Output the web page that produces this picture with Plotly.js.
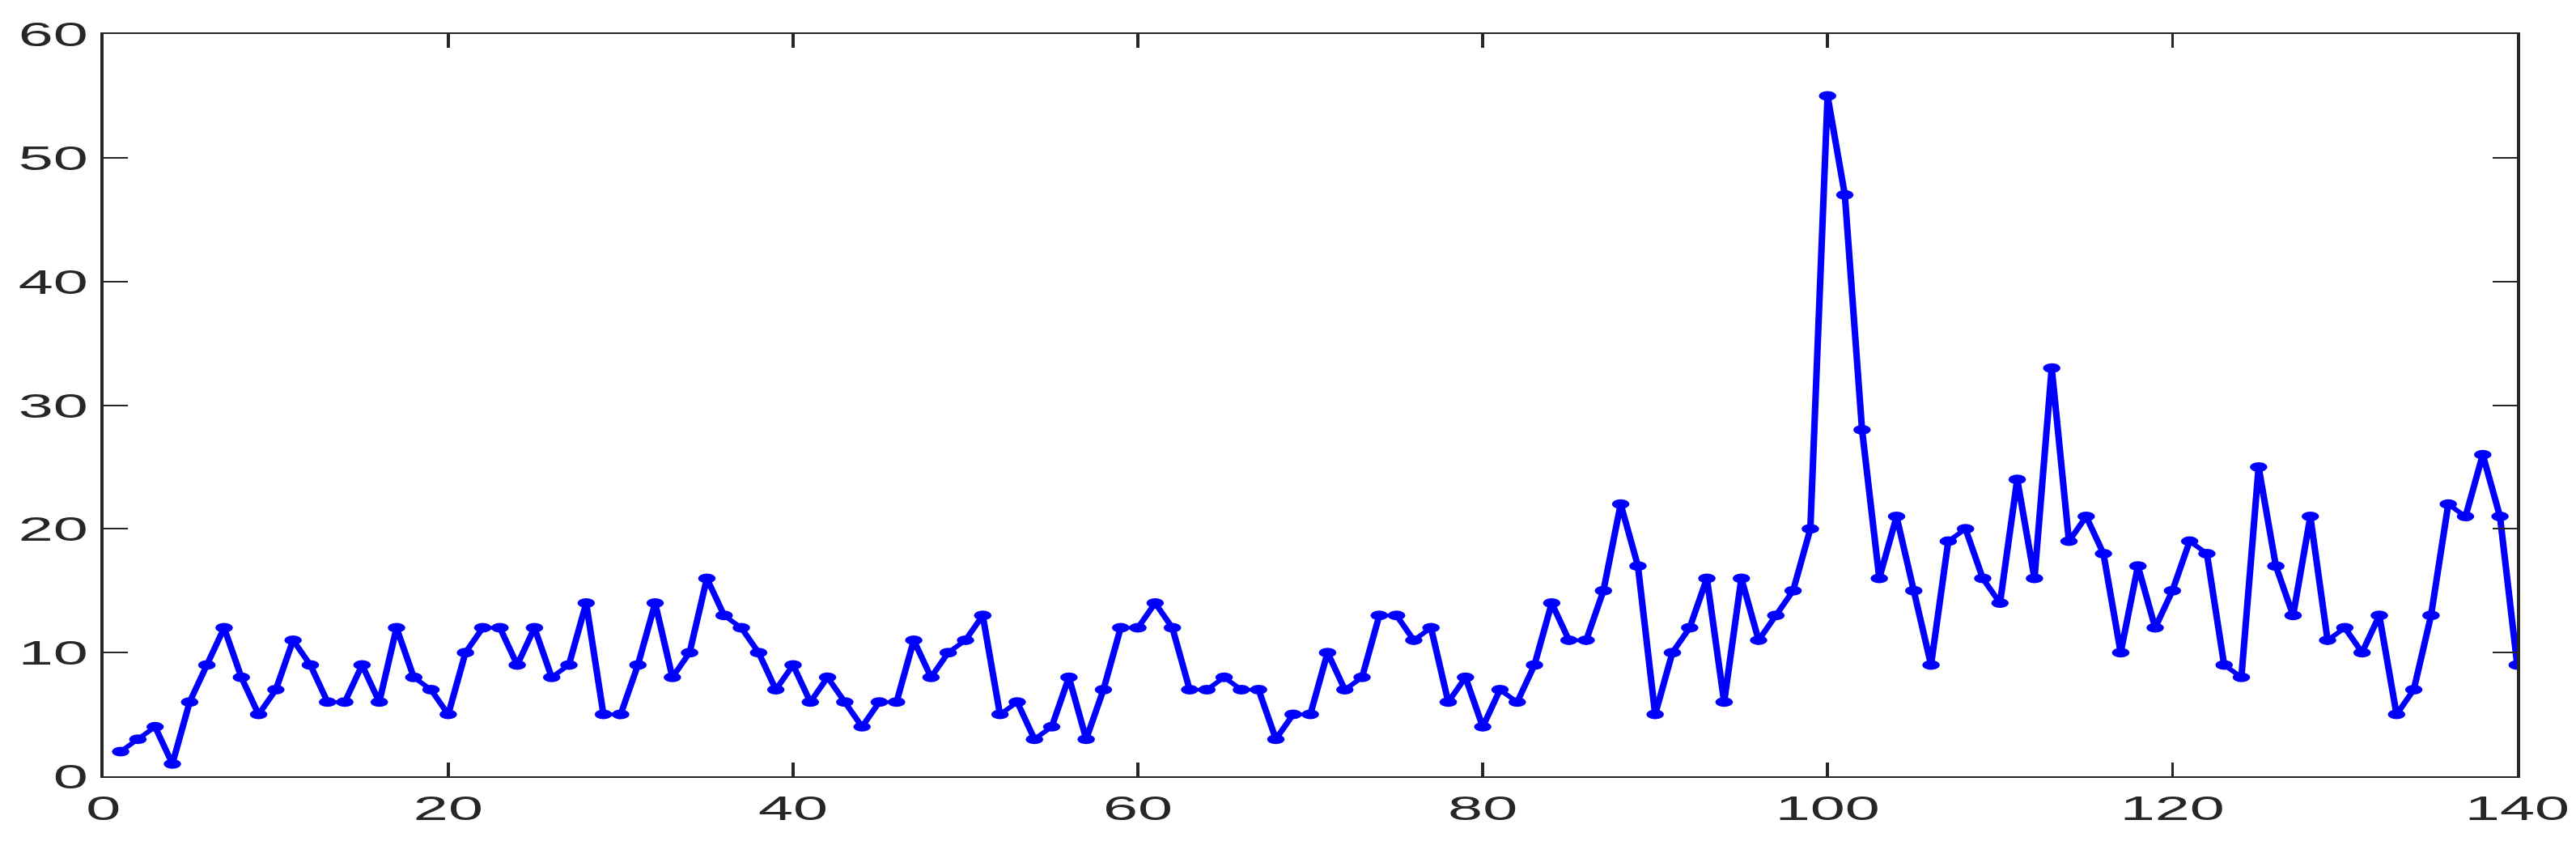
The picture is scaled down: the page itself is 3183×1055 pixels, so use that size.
<!DOCTYPE html>
<html>
<head>
<meta charset="utf-8">
<script src="https://cdn.plot.ly/plotly-3.0.1.min.js"></script>
<style>
  html, body { margin: 0; padding: 0; overflow: hidden; background: #fff; }
  /* the reference is a horizontally stretched figure, so draw narrow and stretch */
  #chart { width: 1769px; height: 1055px; transform: scaleX(1.8); transform-origin: 0 0; }
</style>
</head>
<body>
<div id="chart"></div>
<script>
// values, one per sample
let counts = [
  2, 3, 4, 1, 6, 9, 12, 8, 5, 7, 11, 9, 6, 6, 9, 6, 12, 8, 7, 5,
  10, 12, 12, 9, 12, 8, 9, 14, 5, 5, 9, 14, 8, 10, 16, 13, 12, 10, 7, 9,
  6, 8, 6, 4, 6, 6, 11, 8, 10, 11, 13, 5, 6, 3, 4, 8, 3, 7, 12, 12,
  14, 12, 7, 7, 8, 7, 7, 3, 5, 5, 10, 7, 8, 13, 13, 11, 12, 6, 8, 4,
  7, 6, 9, 14, 11, 11, 15, 22, 17, 5, 10, 12, 16, 6, 16, 11, 13, 15, 20, 55,
  47, 28, 16, 21, 15, 9, 19, 20, 16, 14, 24, 16, 33, 19, 21, 18, 10, 17, 12, 15,
  19, 18, 9, 8, 25, 17, 13, 21, 11, 12, 10, 13, 5, 7, 13, 22, 21, 26, 21, 9
];
let sampleNo = counts.map((v, i) => i + 1);

let xTicks = [0, 20, 40, 60, 80, 100, 120, 140];
let yTicks = [0, 10, 20, 30, 40, 50, 60];

let trace = {
  x: sampleNo,
  y: counts,
  type: 'scatter',
  mode: 'lines+markers',
  line: { color: '#0000ff', width: 4.5 },
  marker: { color: '#0000ff', size: 12 },
  hoverinfo: 'x+y'
};

let axisStyle = {
  showgrid: false,
  zeroline: false,
  showline: true,
  linecolor: '#262626',
  linewidth: 2,
  mirror: 'ticks',
  ticks: 'inside',
  ticklen: 17,
  tickwidth: 2,
  tickcolor: '#262626',
  tickfont: { family: 'Liberation Sans, Arial, sans-serif', size: 43, color: '#262626' },
  automargin: false
};

let layout = {
  width: 1769,
  height: 1055,
  margin: { l: 70.5, r: 40.7, t: 42, b: 96 },
  paper_bgcolor: '#ffffff',
  plot_bgcolor: '#ffffff',
  showlegend: false,
  xaxis: Object.assign({}, axisStyle, { range: [0, 140], tickvals: xTicks, ticktext: xTicks.map(String) }),
  yaxis: Object.assign({}, axisStyle, { range: [0, 60], tickvals: yTicks, ticktext: yTicks.map(String) })
};

Plotly.newPlot('chart', [trace], layout, { staticPlot: true });
</script>
</body>
</html>
